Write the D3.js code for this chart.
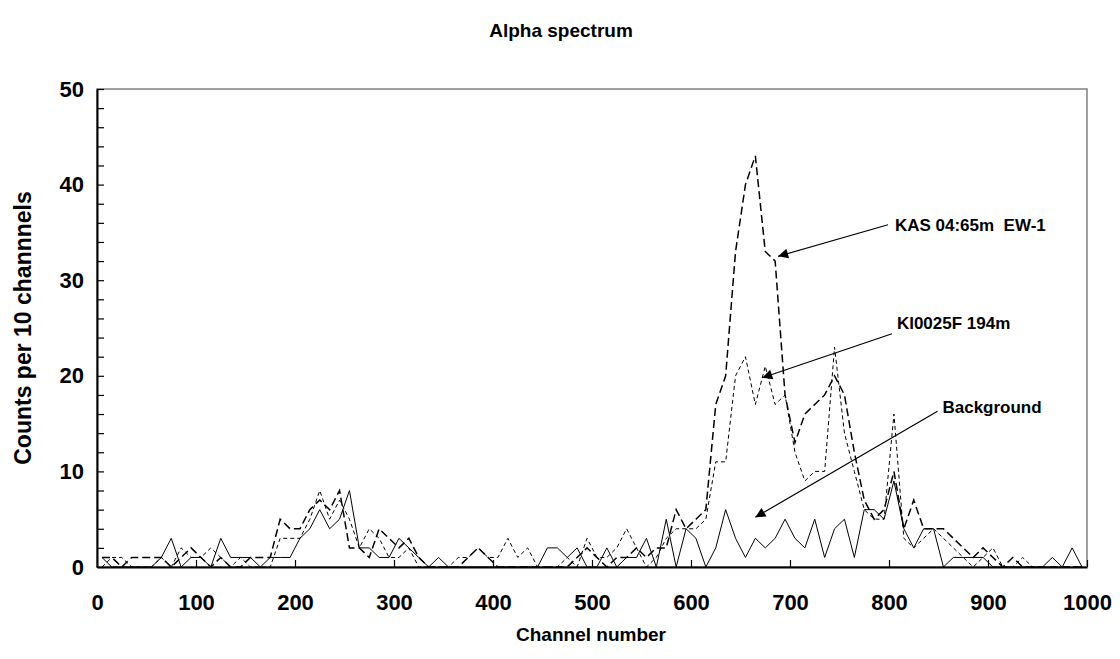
<!DOCTYPE html>
<html>
<head>
<meta charset="utf-8">
<script src="https://cdn.jsdelivr.net/npm/d3@7"></script>
<style>
  body { margin: 0; background: #fff; }
  text { font-family: Arial, "Liberation Sans", sans-serif; font-weight: bold; fill: #000; white-space: pre; }
</style>
</head>
<body>
<script>
// channel bins (centre of each 10-channel bin)
const channels = d3.range(5, 1000, 10);

// counts per 10 channels
const background = [
  1, 0, 0, 0, 0, 0, 1, 3, 0, 1,
  1, 0, 3, 1, 1, 1, 0, 1, 1, 1,
  3, 4, 6, 4, 5, 8, 2, 2, 1, 1,
  3, 2, 1, 0, 1, 0, 0, 0, 0, 0,
  0, 0, 0, 0, 0, 2, 2, 1, 2, 0,
  0, 2, 0, 1, 1, 3, 0, 5, 0, 4,
  3, 0, 2, 6, 3, 1, 3, 2, 3, 5,
  3, 2, 5, 1, 4, 5, 1, 6, 6, 5,
  9, 4, 2, 4, 4, 0, 1, 1, 1, 1,
  0, 0, 0, 0, 0, 0, 1, 0, 2, 0
];

const kas = [
  1, 1, 0, 1, 1, 1, 1, 0, 1, 2,
  1, 0, 1, 0, 0, 1, 1, 1, 5, 4,
  4, 6, 7, 6, 8, 2, 2, 1, 4, 3,
  2, 3, 1, 0, 0, 0, 0, 1, 2, 1,
  0, 0, 0, 0, 0, 0, 0, 0, 1, 2,
  1, 0, 1, 1, 2, 1, 2, 2, 6, 4,
  5, 6, 17, 20, 33, 40, 43, 33, 32, 18,
  13, 16, 17, 18, 20, 18, 12, 7, 5, 6,
  10, 4, 7, 4, 4, 4, 3, 2, 1, 2,
  1, 0, 1, 0, 0, 0, 0, 0, 0, 0
];

const ki = [
  0, 1, 1, 0, 0, 0, 1, 0, 2, 1,
  1, 2, 1, 0, 1, 0, 0, 0, 3, 3,
  3, 5, 8, 5, 7, 5, 2, 4, 3, 1,
  1, 2, 0, 0, 0, 0, 1, 1, 2, 1,
  1, 3, 1, 2, 0, 0, 0, 1, 0, 3,
  1, 1, 2, 4, 2, 0, 1, 3, 4, 4,
  4, 5, 11, 11, 20, 22, 17, 21, 17, 18,
  12, 9, 10, 10, 23, 14, 10, 6, 5, 5,
  16, 3, 2, 3, 4, 3, 2, 1, 0, 1,
  2, 0, 0, 1, 0, 0, 0, 0, 0, 0
];

const series = [
  { name: "Background", values: background, dash: null, width: 1 },
  { name: "KI0025F 194m", values: ki, dash: "4,3", width: 1 },
  { name: "KAS 04:65m  EW-1", values: kas, dash: "8,4", width: 1.5 }
];

// label text and arrow ends, in data units [channel, count]
const notes = [
  { text: "KAS 04:65m  EW-1", at: [806, 35.8], from: [799, 35.8], to: [688, 32.5] },
  { text: "KI0025F 194m", at: [808, 25.5], from: [803, 24.4], to: [672, 19.8] },
  { text: "Background", at: [854, 16.7], from: [849, 16.3], to: [665, 5.2] }
];

const xTicks = d3.range(0, 1001, 100);
const yTicks = d3.range(0, 51, 10);
const yMinor = d3.range(0, 51, 2);

const width = 1120;
const height = 659;
const margin = { top: 89, right: 33, bottom: 92, left: 97 };

const svg = d3.select("body")
  .append("svg")
  .attr("width", width)
  .attr("height", height);

const x = d3.scaleLinear().domain([0, 1000]).range([margin.left, width - margin.right]);
const y = d3.scaleLinear().domain([0, 50]).range([height - margin.bottom, margin.top]);

svg.append("defs").append("clipPath").attr("id", "plot")
  .append("rect")
  .attr("x", x(0)).attr("y", y(50))
  .attr("width", x(1000) - x(0)).attr("height", y(0) - y(50));

svg.append("marker")
  .attr("id", "head")
  .attr("viewBox", "0 0 10 10")
  .attr("refX", 10).attr("refY", 5)
  .attr("markerWidth", 14).attr("markerHeight", 10)
  .attr("markerUnits", "userSpaceOnUse")
  .attr("orient", "auto")
  .append("path")
  .attr("d", "M0,0 L10,5 L0,10 Z")
  .attr("fill", "#000");

// frame: grey top and right, black axes
svg.append("rect")
  .attr("x", x(0)).attr("y", y(50))
  .attr("width", x(1000) - x(0)).attr("height", y(0) - y(50))
  .attr("fill", "none")
  .attr("stroke", "#808080")
  .attr("stroke-width", 1.5);

// data lines
const line = d3.line()
  .x((d, i) => x(channels[i]))
  .y(d => y(d));

const plot = svg.append("g").attr("clip-path", "url(#plot)");
series.forEach(s => {
  plot.append("path")
    .datum(s.values)
    .attr("d", line)
    .attr("fill", "none")
    .attr("stroke", "#000")
    .attr("stroke-width", s.width)
    .attr("stroke-dasharray", s.dash);
});

// axes with ticks pointing inward
const xAxis = svg.append("g")
  .attr("transform", `translate(0,${y(0)})`)
  .call(d3.axisBottom(x).tickValues(xTicks).tickSizeInner(-7).tickSizeOuter(0).tickPadding(27)
    .tickFormat(d3.format("d")));

const yAxis = svg.append("g")
  .attr("transform", `translate(${x(0)},0)`)
  .call(d3.axisLeft(y).tickValues(yMinor).tickSizeInner(-7).tickSizeOuter(0).tickPadding(13)
    .tickFormat(d => yTicks.includes(d) ? d : ""));

[xAxis, yAxis].forEach(a => {
  a.select(".domain").attr("stroke", "#000").attr("stroke-width", 2);
  a.selectAll(".tick line").attr("stroke", "#000").attr("stroke-width", 1.2);
  a.selectAll(".tick text")
    .attr("font-family", "Arial, 'Liberation Sans', sans-serif")
    .attr("font-weight", "bold")
    .attr("font-size", 22);
});

// annotations
notes.forEach(n => {
  svg.append("line")
    .attr("x1", x(n.from[0])).attr("y1", y(n.from[1]))
    .attr("x2", x(n.to[0])).attr("y2", y(n.to[1]))
    .attr("stroke", "#000")
    .attr("stroke-width", 1.2)
    .attr("marker-end", "url(#head)");
  svg.append("text")
    .attr("x", x(n.at[0])).attr("y", y(n.at[1]))
    .attr("dy", "0.35em")
    .attr("font-size", 17)
    .text(n.text);
});

// titles
svg.append("text")
  .attr("x", 561).attr("y", 37)
  .attr("text-anchor", "middle")
  .attr("font-size", 19)
  .text("Alpha spectrum");

svg.append("text")
  .attr("x", 591).attr("y", 641)
  .attr("text-anchor", "middle")
  .attr("font-size", 19)
  .text("Channel number");

svg.append("text")
  .attr("transform", `translate(31,${(y(0) + y(50)) / 2}) rotate(-90)`)
  .attr("text-anchor", "middle")
  .attr("font-size", 23)
  .text("Counts per 10 channnels");
</script>
</body>
</html>
